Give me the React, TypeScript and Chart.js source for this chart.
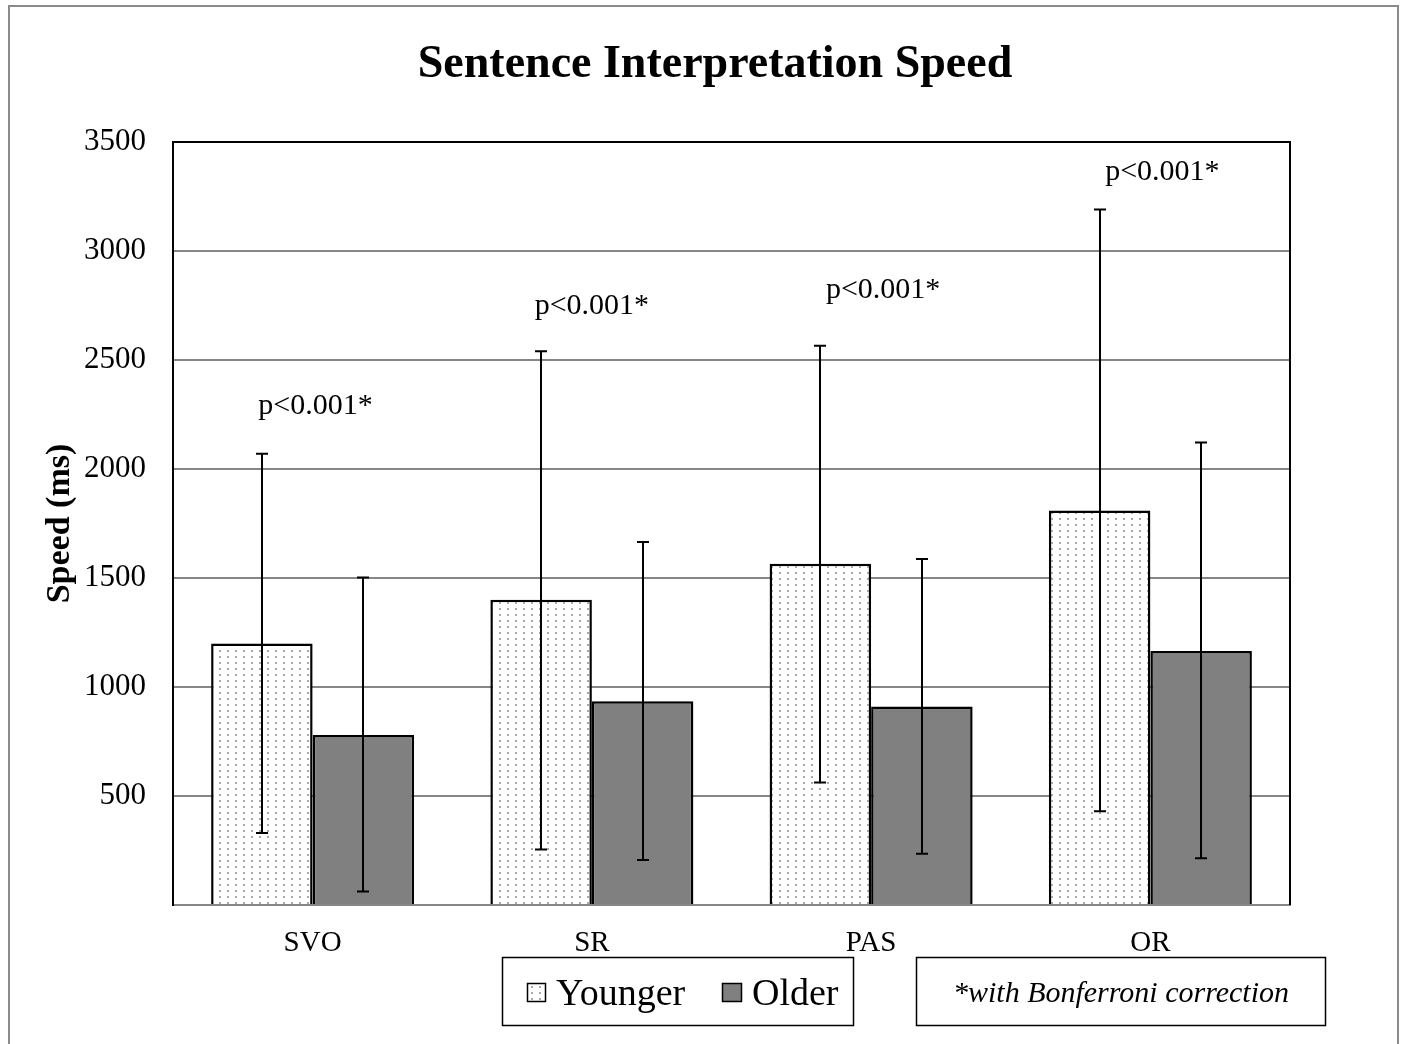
import React, { useEffect, useRef } from 'react';
import { Chart, registerables } from 'chart.js';

Chart.register(...registerables);

const categories = ['SVO', 'SR', 'PAS', 'OR'];
const seriesNames = ['Younger', 'Older'];
const younger = [1200, 1400, 1565, 1810];
const older = [780, 935, 910, 1165];
const youngerUpper = [2070, 2540, 2565, 3190];
const youngerLower = [330, 255, 562, 430];
const olderUpper = [1502, 1665, 1587, 2122];
const olderLower = [62, 206, 235, 214];
const pLabels = ['p<0.001*', 'p<0.001*', 'p<0.001*', 'p<0.001*'];
const pLabelValues = [2290, 2745, 2820, 3360];
const pLabelShift = [0.01, 0, 0.043, 0.043];
const yTickValues = [0, 500, 1000, 1500, 2000, 2500, 3000, 3500];
const titleText = 'Sentence Interpretation Speed';
const yTitle = 'Speed (ms)';
const noteText = '*with Bonferroni correction';

const FONT = '"Liberation Serif", "Times New Roman", serif';

function makeDotPattern(): CanvasPattern | string {
  const c = document.createElement('canvas');
  c.width = 8;
  c.height = 6;
  const g = c.getContext('2d');
  if (!g) return '#ffffff';
  g.fillStyle = '#ffffff';
  g.fillRect(0, 0, 8, 6);
  g.fillStyle = '#a8a8a8';
  g.fillRect(3, 2, 2, 2);
  const p = g.createPattern(c, 'repeat');
  return p || '#ffffff';
}

export default function App() {
  const ref = useRef<HTMLCanvasElement | null>(null);

  useEffect(() => {
    const canvas = ref.current;
    if (!canvas) return;
    const pattern = makeDotPattern();

    const errorBars = {
      id: 'errorBars',
      afterDatasetsDraw(chart: any) {
        const ctx = chart.ctx;
        const ys = chart.scales.y;
        const uppers = [youngerUpper, olderUpper];
        const lowers = [youngerLower, olderLower];
        ctx.save();
        ctx.strokeStyle = '#000000';
        ctx.lineWidth = 2;
        chart.data.datasets.forEach((_: any, di: number) => {
          const meta = chart.getDatasetMeta(di);
          meta.data.forEach((el: any, i: number) => {
            const x = Math.round(el.x);
            const yu = ys.getPixelForValue(uppers[di][i]);
            const yl = ys.getPixelForValue(lowers[di][i]);
            ctx.beginPath();
            ctx.moveTo(x, yu);
            ctx.lineTo(x, yl);
            ctx.moveTo(x - 6, yu);
            ctx.lineTo(x + 6, yu);
            ctx.moveTo(x - 6, yl);
            ctx.lineTo(x + 6, yl);
            ctx.stroke();
          });
        });
        // p labels
        const xs = chart.scales.x;
        ctx.fillStyle = '#000000';
        ctx.font = `30px ${FONT}`;
        ctx.textAlign = 'center';
        ctx.textBaseline = 'middle';
        pLabels.forEach((t, i) => {
          const x = xs.getPixelForValue(i + pLabelShift[i]);
          const y = ys.getPixelForValue(pLabelValues[i]);
          ctx.fillText(t, x, y);
        });
        // top & right plot borders
        const a = chart.chartArea;
        ctx.strokeStyle = '#000000';
        ctx.lineWidth = 2;
        ctx.beginPath();
        ctx.moveTo(a.left, a.top);
        ctx.lineTo(a.right, a.top);
        ctx.lineTo(a.right, a.bottom);
        ctx.stroke();
        ctx.restore();
      },
    };

    const decorations = {
      id: 'decorations',
      afterDraw(chart: any) {
        const ctx = chart.ctx;
        ctx.save();
        // outer frame
        ctx.strokeStyle = '#8a8a8a';
        ctx.lineWidth = 2;
        ctx.strokeRect(9, 6, 1389, 1050);
        // title
        ctx.fillStyle = '#000000';
        ctx.font = `bold 46px ${FONT}`;
        ctx.textAlign = 'center';
        ctx.textBaseline = 'alphabetic';
        ctx.fillText(titleText, 715, 77);
        // legend box
        ctx.strokeStyle = '#000000';
        ctx.lineWidth = 1.5;
        ctx.strokeRect(502.5, 957.5, 351, 68);
        ctx.strokeRect(916.5, 957.5, 409, 68);
        // legend markers
        ctx.lineWidth = 1.5;
        ctx.fillStyle = pattern as any;
        ctx.fillRect(527, 983, 18, 18);
        ctx.strokeRect(527.5, 983.5, 18, 18);
        ctx.fillStyle = '#808080';
        ctx.fillRect(722, 983, 19, 18);
        ctx.strokeRect(722.5, 983.5, 19, 18);
        ctx.fillStyle = '#000000';
        ctx.font = `38px ${FONT}`;
        ctx.textAlign = 'left';
        ctx.textBaseline = 'alphabetic';
        ctx.fillText(seriesNames[0], 556, 1005);
        ctx.fillText(seriesNames[1], 752, 1005);
        ctx.font = `italic 30px ${FONT}`;
        ctx.textAlign = 'center';
        ctx.fillText(noteText, 1121, 1002);
        ctx.restore();
      },
    };

    const chart = new Chart(canvas, {
      type: 'bar',
      data: {
        labels: categories,
        datasets: [
          {
            label: seriesNames[0],
            data: younger,
            backgroundColor: pattern as any,
            borderColor: '#000000',
            borderWidth: 2.5,
            barPercentage: 1,
            categoryPercentage: 0.727,
          },
          {
            label: seriesNames[1],
            data: older,
            backgroundColor: '#808080',
            borderColor: '#000000',
            borderWidth: 2.5,
            barPercentage: 1,
            categoryPercentage: 0.727,
          },
        ],
      },
      options: {
        responsive: false,
        animation: false,
        devicePixelRatio: 1,
        layout: { padding: { left: 0, top: 142, right: 113, bottom: 0 } },
        plugins: {
          legend: { display: false },
          title: { display: false },
          tooltip: { enabled: false },
        },
        scales: {
          x: {
            grid: { display: false, drawTicks: false },
            border: { color: '#868686', width: 2 },
            ticks: {
              color: '#000000',
              font: { family: FONT, size: 29 },
              padding: 21,
            },
            afterFit(scale: any) {
              scale.height = 139;
            },
          },
          y: {
            min: 0,
            max: 3500,
            afterBuildTicks(scale: any) {
              scale.ticks = yTickValues.map((v) => ({ value: v }));
            },
            grid: { color: '#868686', lineWidth: 2, drawTicks: false },
            border: { color: '#000000', width: 2 },
            ticks: {
              color: '#000000',
              font: { family: FONT, size: 31 },
              padding: 27,
              callback: (v: any) => (Number(v) === 0 ? '' : String(v)),
            },
            title: {
              display: true,
              text: yTitle,
              color: '#000000',
              font: { family: FONT, size: 34, weight: 'bold' },
              padding: { top: 40, bottom: 0 },
            },
            afterFit(scale: any) {
              scale.width = 173;
            },
          },
        },
      },
      plugins: [errorBars, decorations],
    });

    return () => {
      chart.destroy();
    };
  }, []);

  return (
    <div style={{ position: 'absolute', left: 0, top: 0, width: 1403, height: 1044, background: '#ffffff' }}>
      <canvas ref={ref} width={1403} height={1044} style={{ display: 'block' }} />
    </div>
  );
}
